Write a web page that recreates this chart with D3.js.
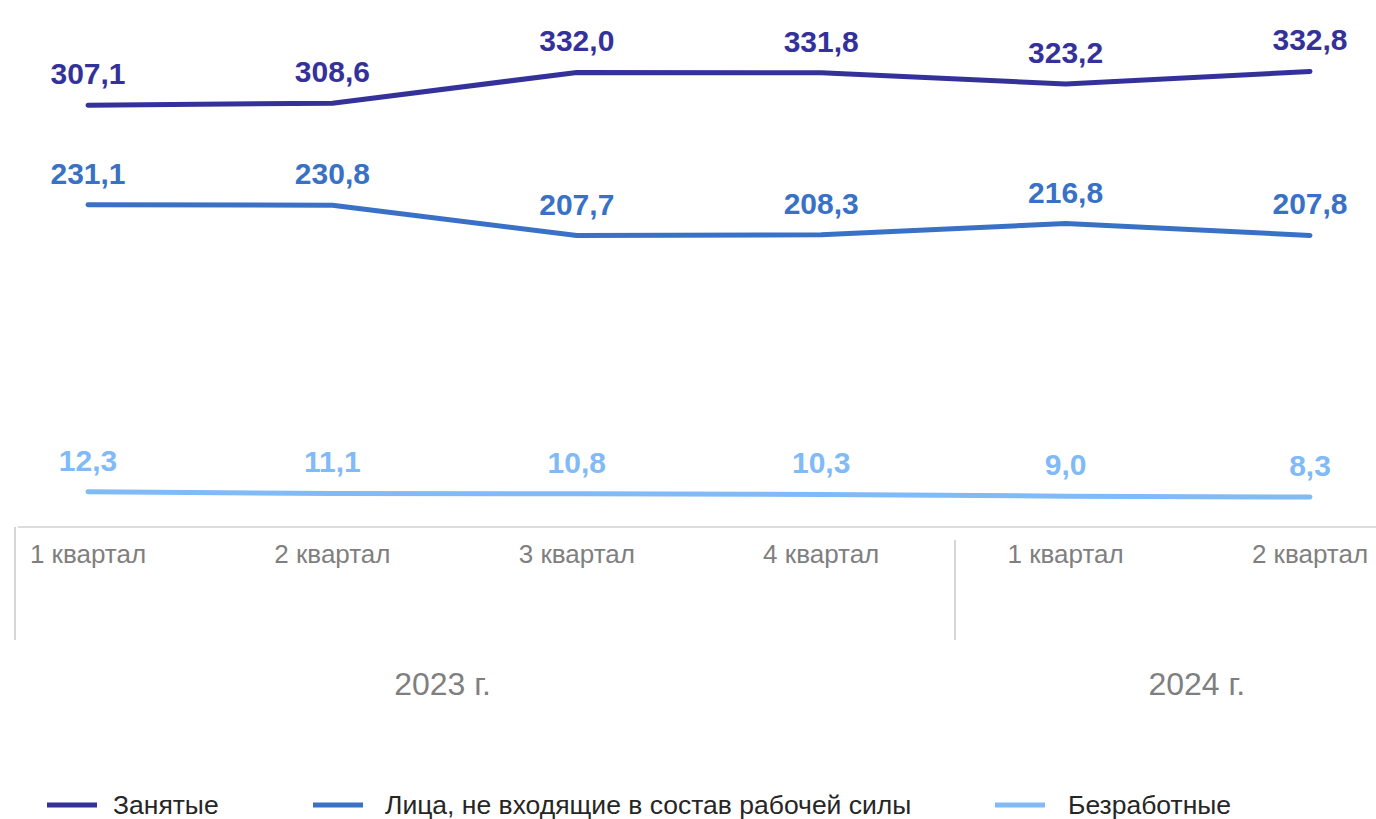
<!DOCTYPE html>
<html>
<head>
<meta charset="utf-8">
<script src="https://cdn.jsdelivr.net/npm/d3@7"></script>
<style>
  body { margin: 0; background: #fff; }
  svg { display: block; font-family: "Liberation Sans", Arial, sans-serif; }
</style>
</head>
<body>
<div id="graf"></div>
<script>
const quarters = ["1 квартал", "2 квартал", "3 квартал", "4 квартал", "1 квартал", "2 квартал"]
const years = ["2023 г.", "2023 г.", "2023 г.", "2023 г.", "2024 г.", "2024 г."]
const employed = [307.1, 308.6, 332.0, 331.8, 323.2, 332.8]
const outsideLabour = [231.1, 230.8, 207.7, 208.3, 216.8, 207.8]
const unemployed = [12.3, 11.1, 10.8, 10.3, 9.0, 8.3]
const seriesNames = ["Занятые", "Лица, не входящие в состав рабочей силы", "Безработные"]
const colors = ["#34329a", "#3871c5", "#80baf7"]

const series = [employed, outsideLabour, unemployed].map((v, i) => ({
  name: seriesNames[i],
  color: colors[i],
  values: v.map((d, j) => ({ i: j, v: d }))
}))

const anchoTotal = 1376
const altoTotal = 819

const svg = d3.select("#graf")
  .append("svg")
  .attr("width", anchoTotal)
  .attr("height", altoTotal)

const x = d3.scalePoint().domain(d3.range(quarters.length)).range([88, 1310])
const y = d3.scaleLinear().domain([-14.5, 340]).range([527, 62])

const fmt = (d) => d.toFixed(1).replace(".", ",")

// ось
svg.append("line")
  .attr("x1", 18).attr("x2", anchoTotal)
  .attr("y1", y(-14.5)).attr("y2", y(-14.5))
  .attr("stroke", "#d0d0d0").attr("stroke-width", 1.5)

// разделители годов
;[15, 955].forEach((sx, k) => {
  svg.append("line")
    .attr("x1", sx).attr("x2", sx)
    .attr("y1", k === 0 ? 527 : 540).attr("y2", 640)
    .attr("stroke", "#c8c8c8").attr("stroke-width", 1.5)
})

svg.selectAll(".cat")
  .data(quarters)
  .join("text")
  .attr("class", "cat")
  .attr("x", (d, i) => x(i))
  .attr("y", 563)
  .attr("text-anchor", "middle")
  .attr("fill", "#7f7f7f")
  .attr("font-size", 26)
  .text((d) => d)

const yearShift = [-12, 9]
const yearGroups = d3.groups(d3.range(years.length), (i) => years[i])
svg.selectAll(".year")
  .data(yearGroups)
  .join("text")
  .attr("class", "year")
  .attr("x", (d, k) => (x(d[1][0]) + x(d[1][d[1].length - 1])) / 2 + yearShift[k])
  .attr("y", 695)
  .attr("text-anchor", "middle")
  .attr("fill", "#7f7f7f")
  .attr("font-size", 32)
  .text((d) => d[0])

const line = d3.line().x((d) => x(d.i)).y((d) => y(d.v))

const g = svg.selectAll(".serie")
  .data(series)
  .join("g")
  .attr("class", "serie")

g.append("path")
  .attr("d", (d) => line(d.values))
  .attr("fill", "none")
  .attr("stroke", (d) => d.color)
  .attr("stroke-width", 5)
  .attr("stroke-linecap", "round")
  .attr("stroke-linejoin", "round")

g.each(function (s) {
  d3.select(this).selectAll("text")
    .data(s.values)
    .join("text")
    .attr("x", (d) => x(d.i))
    .attr("y", (d) => y(d.v) - 21)
    .attr("text-anchor", "middle")
    .attr("font-size", 30)
    .attr("font-weight", "bold")
    .attr("fill", s.color)
    .text((d) => fmt(d.v))
})

// легенда
const legendX = [47, 313, 995]
const legend = svg.selectAll(".leg")
  .data(series)
  .join("g")
  .attr("class", "leg")
  .attr("transform", (d, i) => `translate(${legendX[i]}, 805)`)

legend.append("line")
  .attr("x1", 0).attr("x2", 50)
  .attr("stroke", (d) => d.color)
  .attr("stroke-width", 5)

legend.append("text")
  .attr("x", (d, i) => (i === 2 ? 73 : i === 1 ? 72 : 66))
  .attr("y", 9)
  .attr("font-size", 26.5)
  .attr("fill", "#262626")
  .text((d) => d.name)
</script>
</body>
</html>
